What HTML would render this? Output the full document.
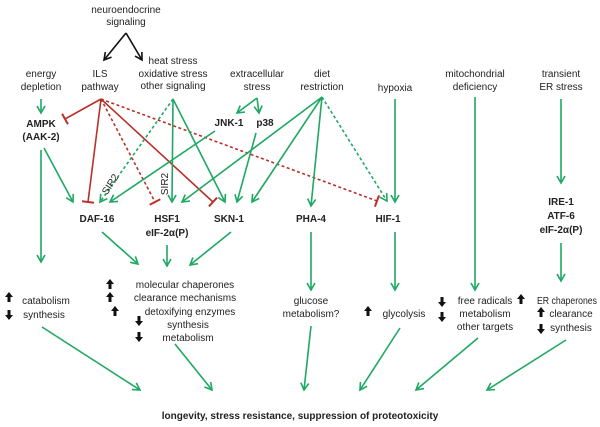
<!DOCTYPE html>
<html><head><style>
html,body{margin:0;padding:0;background:#fff;}
svg{display:block;}
text{font-family:"Liberation Sans",sans-serif;font-size:10px;fill:#222;text-anchor:middle;}
.b{font-weight:bold;font-size:10px;}
.g{stroke:#1ea862;stroke-width:1.6;fill:none;}
.r{stroke:#b8322a;stroke-width:1.6;fill:none;}
.k{stroke:#111;stroke-width:1.6;fill:none;}
.d{stroke-dasharray:3,2.5;}
</style></head><body>
<svg width="600" height="427" viewBox="0 0 600 427">
<defs>
<marker id="ag" markerWidth="10" markerHeight="10" refX="8" refY="5" orient="auto" markerUnits="userSpaceOnUse"><path d="M1,1 L8,5 L1,9" fill="none" stroke="#1ea862" stroke-width="1.6"/></marker>
<marker id="ak" markerWidth="10" markerHeight="10" refX="8" refY="5" orient="auto" markerUnits="userSpaceOnUse"><path d="M1,1 L8,5 L1,9" fill="none" stroke="#111" stroke-width="1.6"/></marker>
<marker id="tr" markerWidth="4" markerHeight="14" refX="2" refY="7" orient="auto" markerUnits="userSpaceOnUse"><path d="M2,1 L2,13" stroke="#b8322a" stroke-width="2"/></marker>
</defs>
<text x="126" y="13">neuroendocrine</text><text x="126" y="25">signaling</text>
<line class="k" x1="126" y1="33" x2="104" y2="60" marker-end="url(#ak)"/>
<line class="k" x1="126" y1="33" x2="142" y2="60" marker-end="url(#ak)"/>
<text x="41" y="77">energy</text><text x="41" y="90">depletion</text>
<text x="100" y="77">ILS</text><text x="100" y="90">pathway</text>
<text x="173" y="64">heat stress</text><text x="173" y="77">oxidative stress</text><text x="173" y="89">other signaling</text>
<text x="257" y="77">extracellular</text><text x="257" y="90">stress</text>
<text x="322" y="77">diet</text><text x="322" y="90">restriction</text>
<text x="395" y="91">hypoxia</text>
<text x="475" y="77">mitochondrial</text><text x="475" y="90">deficiency</text>
<text x="561" y="77">transient</text><text x="561" y="90">ER stress</text>
<line class="g" x1="41" y1="99" x2="41" y2="113" marker-end="url(#ag)"/>
<text class="b" x="41" y="127">AMPK</text><text class="b" x="41" y="140">(AAK-2)</text>
<line class="g" x1="257" y1="98" x2="237" y2="113" marker-end="url(#ag)"/>
<line class="g" x1="257" y1="98" x2="259" y2="113" marker-end="url(#ag)"/>
<text class="b" x="229" y="126">JNK-1</text><text class="b" x="265" y="126">p38</text>
<line class="r" x1="101" y1="99" x2="65" y2="119" marker-end="url(#tr)"/>
<line class="r" x1="101" y1="99" x2="88" y2="202" marker-end="url(#tr)"/>
<line class="r d" x1="101" y1="99" x2="155" y2="202" marker-end="url(#tr)"/>
<line class="r" x1="101" y1="99" x2="213" y2="202" marker-end="url(#tr)"/>
<line class="r d" x1="101" y1="99" x2="377" y2="201" marker-end="url(#tr)"/>
<line class="g d" x1="173" y1="99" x2="100" y2="202" marker-end="url(#ag)"/>
<line class="g" x1="173" y1="99" x2="172" y2="202" marker-end="url(#ag)"/>
<line class="g" x1="173" y1="99" x2="225" y2="202" marker-end="url(#ag)"/>
<text x="0" y="0" font-size="9" transform="translate(113,186) rotate(-57)">SIR2</text>
<text x="0" y="0" font-size="9" transform="translate(168,184) rotate(-90)">SIR2</text>
<line class="g" x1="44" y1="148" x2="73" y2="202" marker-end="url(#ag)"/>
<line class="g" x1="215" y1="131" x2="110" y2="202" marker-end="url(#ag)"/>
<line class="g" x1="256" y1="133" x2="237" y2="202" marker-end="url(#ag)"/>
<line class="g" x1="322" y1="97" x2="182" y2="202" marker-end="url(#ag)"/>
<line class="g" x1="322" y1="97" x2="252" y2="202" marker-end="url(#ag)"/>
<line class="g" x1="322" y1="97" x2="311" y2="206" marker-end="url(#ag)"/>
<line class="g d" x1="322" y1="97" x2="387" y2="201" marker-end="url(#ag)"/>
<line class="g" x1="395" y1="99" x2="395" y2="202" marker-end="url(#ag)"/>
<line class="g" x1="475" y1="97" x2="475" y2="290" marker-end="url(#ag)"/>
<line class="g" x1="561" y1="99" x2="561" y2="183" marker-end="url(#ag)"/>
<text class="b" x="97" y="222">DAF-16</text>
<text class="b" x="167" y="222">HSF1</text><text class="b" x="167" y="236">eIF-2α(P)</text>
<text class="b" x="229" y="222">SKN-1</text>
<text class="b" x="311" y="222">PHA-4</text>
<text class="b" x="388" y="222">HIF-1</text>
<text class="b" x="561" y="205">IRE-1</text><text class="b" x="561" y="219">ATF-6</text><text class="b" x="561" y="233">eIF-2α(P)</text>
<line class="g" x1="41" y1="150" x2="41" y2="262" marker-end="url(#ag)"/>
<line class="g" x1="102" y1="232" x2="138" y2="264" marker-end="url(#ag)"/>
<line class="g" x1="167" y1="245" x2="167" y2="266" marker-end="url(#ag)"/>
<line class="g" x1="231" y1="232" x2="190" y2="265" marker-end="url(#ag)"/>
<line class="g" x1="311" y1="232" x2="311" y2="290" marker-end="url(#ag)"/>
<line class="g" x1="395" y1="232" x2="395" y2="290" marker-end="url(#ag)"/>
<line class="g" x1="561" y1="243" x2="561" y2="281" marker-end="url(#ag)"/>
<text x="46" y="304">catabolism</text><text x="44" y="318">synthesis</text>
<text x="185" y="288">molecular chaperones</text><text x="185" y="301">clearance mechanisms</text><text x="190" y="315">detoxifying enzymes</text><text x="188" y="328">synthesis</text><text x="188" y="341">metabolism</text>
<text x="311" y="304">glucose</text><text x="311" y="317">metabolism?</text>
<text x="404" y="317">glycolysis</text>
<text x="485" y="304">free radicals</text><text x="485" y="317">metabolism</text><text x="485" y="330">other  targets</text>
<text x="567" y="304" textLength="60" lengthAdjust="spacingAndGlyphs">ER chaperones</text><text x="571" y="317">clearance</text><text x="571" y="331">synthesis</text>
<g fill="#111">
<path d="M9,292 l4,5 h-2.5 v5 h-3 v-5 h-2.5z"/>
<path d="M110,279 l4,5 h-2.5 v5 h-3 v-5 h-2.5z"/>
<path d="M110,292 l4,5 h-2.5 v5 h-3 v-5 h-2.5z"/>
<path d="M115,306 l4,5 h-2.5 v5 h-3 v-5 h-2.5z"/>
<path d="M368,306 l4,5 h-2.5 v5 h-3 v-5 h-2.5z"/>
<path d="M521,294 l4,5 h-2.5 v5 h-3 v-5 h-2.5z"/>
<path d="M541,307 l4,5 h-2.5 v5 h-3 v-5 h-2.5z"/>
<path d="M9,320 l4,-5 h-2.5 v-5 h-3 v5 h-2.5z"/>
<path d="M139,326 l4,-5 h-2.5 v-5 h-3 v5 h-2.5z"/>
<path d="M139,342 l4,-5 h-2.5 v-5 h-3 v5 h-2.5z"/>
<path d="M442,307 l4,-5 h-2.5 v-5 h-3 v5 h-2.5z"/>
<path d="M442,322 l4,-5 h-2.5 v-5 h-3 v5 h-2.5z"/>
<path d="M541,334 l4,-5 h-2.5 v-5 h-3 v5 h-2.5z"/>
</g>
<line class="g" x1="42" y1="327" x2="140" y2="390" marker-end="url(#ag)"/>
<line class="g" x1="175" y1="344" x2="212" y2="390" marker-end="url(#ag)"/>
<line class="g" x1="311" y1="326" x2="304" y2="390" marker-end="url(#ag)"/>
<line class="g" x1="400" y1="328" x2="360" y2="390" marker-end="url(#ag)"/>
<line class="g" x1="478" y1="338" x2="416" y2="390" marker-end="url(#ag)"/>
<line class="g" x1="566" y1="340" x2="487" y2="390" marker-end="url(#ag)"/>
<text class="b" x="300" y="419" font-size="10">longevity, stress resistance, suppression of proteotoxicity</text>
</svg>
</body></html>
